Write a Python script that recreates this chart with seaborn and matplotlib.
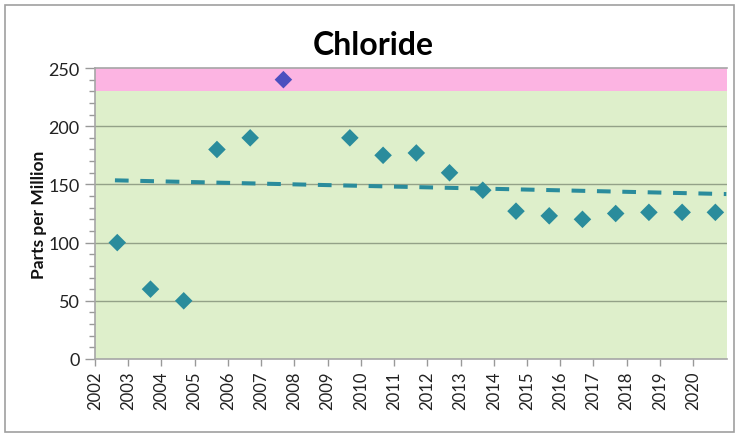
import matplotlib
matplotlib.use("Agg")
import matplotlib.pyplot as plt
import matplotlib.patches as mpatches
from matplotlib.ticker import MultipleLocator
import numpy as np
import pandas as pd
import seaborn as sns

# ---- data ----
sample_years = [2002.67, 2003.67, 2004.67, 2005.67, 2006.67, 2007.67, 2009.67,
                2010.67, 2011.67, 2012.67, 2013.67, 2014.67, 2015.67, 2016.67,
                2017.67, 2018.67, 2019.67, 2020.67]
chloride_ppm = [100, 60, 50, 180, 190, 240, 190, 175, 177, 160, 145, 127, 123,
                120, 125, 126, 126, 126]
trend_years = [2002.6, 2021.0]
trend_ppm = [153.5, 141.7]
limit_ppm = 230
year_ticks = list(range(2002, 2021))
y_ticks = [0, 50, 100, 150, 200, 250]

sns.set_theme(style="white")
plt.rcParams["font.family"] = ["Lato", "DejaVu Sans"]

df = pd.DataFrame({"year": sample_years, "ppm": chloride_ppm})
df["status"] = np.where(df["ppm"] > limit_ppm, "over", "ok")
trend_df = pd.DataFrame({"year": trend_years, "ppm": trend_ppm})

fig = plt.figure(figsize=(7.35, 4.35), dpi=100)
ax = fig.add_axes([95 / 735, 1 - 360 / 435, (727 - 95) / 735, (360 - 69) / 435])

# background bands
ax.axhspan(0, limit_ppm, color="#DEEFCB", zorder=0, lw=0)
ax.axhspan(limit_ppm, 250, color="#FCB4E2", zorder=0, lw=0)

# grid lines
for v in y_ticks[1:-1]:
    ax.axhline(v, color="#93A188", lw=1.0, zorder=1)

sns.lineplot(data=trend_df, x="year", y="ppm", ax=ax, color="#2A8C9C",
             lw=2.9, linestyle=(0, (3.4, 2.9)), zorder=2)
sns.scatterplot(data=df, x="year", y="ppm", hue="status",
                palette={"ok": "#2A8C9C", "over": "#4B50BF"}, marker="D",
                s=80, edgecolor="none", legend=False, ax=ax, zorder=3)

ax.set_xlim(2002, 2021.02)
ax.set_ylim(0, 250)
ax.set_xticks(year_ticks)
ax.set_xticklabels([str(y) for y in year_ticks], rotation=90, fontsize=12,
                   color="#222222")
ax.set_yticks(y_ticks)
ax.set_yticklabels([str(v) for v in y_ticks], fontsize=13, color="#222222")
ax.yaxis.set_minor_locator(MultipleLocator(10))
ax.tick_params(axis="y", which="major", direction="out", length=7, width=1,
               color="#999999", left=True, pad=4)
ax.tick_params(axis="y", which="minor", direction="out", length=4, width=1,
               color="#999999", left=True)
ax.tick_params(axis="x", which="major", direction="out", length=5, width=1,
               color="#999999", bottom=True, pad=3)

ax.set_xlabel("")
ax.set_ylabel("Parts per Million", fontsize=12.5, fontweight="bold",
              color="#111111", labelpad=1)

for side in ["left", "bottom", "top"]:
    ax.spines[side].set_visible(True)
    ax.spines[side].set_color("#A6A6A6")
    ax.spines[side].set_linewidth(1.2)
ax.spines["right"].set_visible(False)

fig.text(0.508, 0.895, "Chloride", ha="center", va="center", fontsize=23,
         fontweight="bold", color="#000000")

# outer chart border
fig.patches.append(mpatches.Rectangle((5 / 735, 2 / 435), 729 / 735, 427 / 435,
                                      transform=fig.transFigure, fill=False,
                                      edgecolor="#A0A0A0", lw=1.2))

fig.savefig("out.png", dpi=100)
